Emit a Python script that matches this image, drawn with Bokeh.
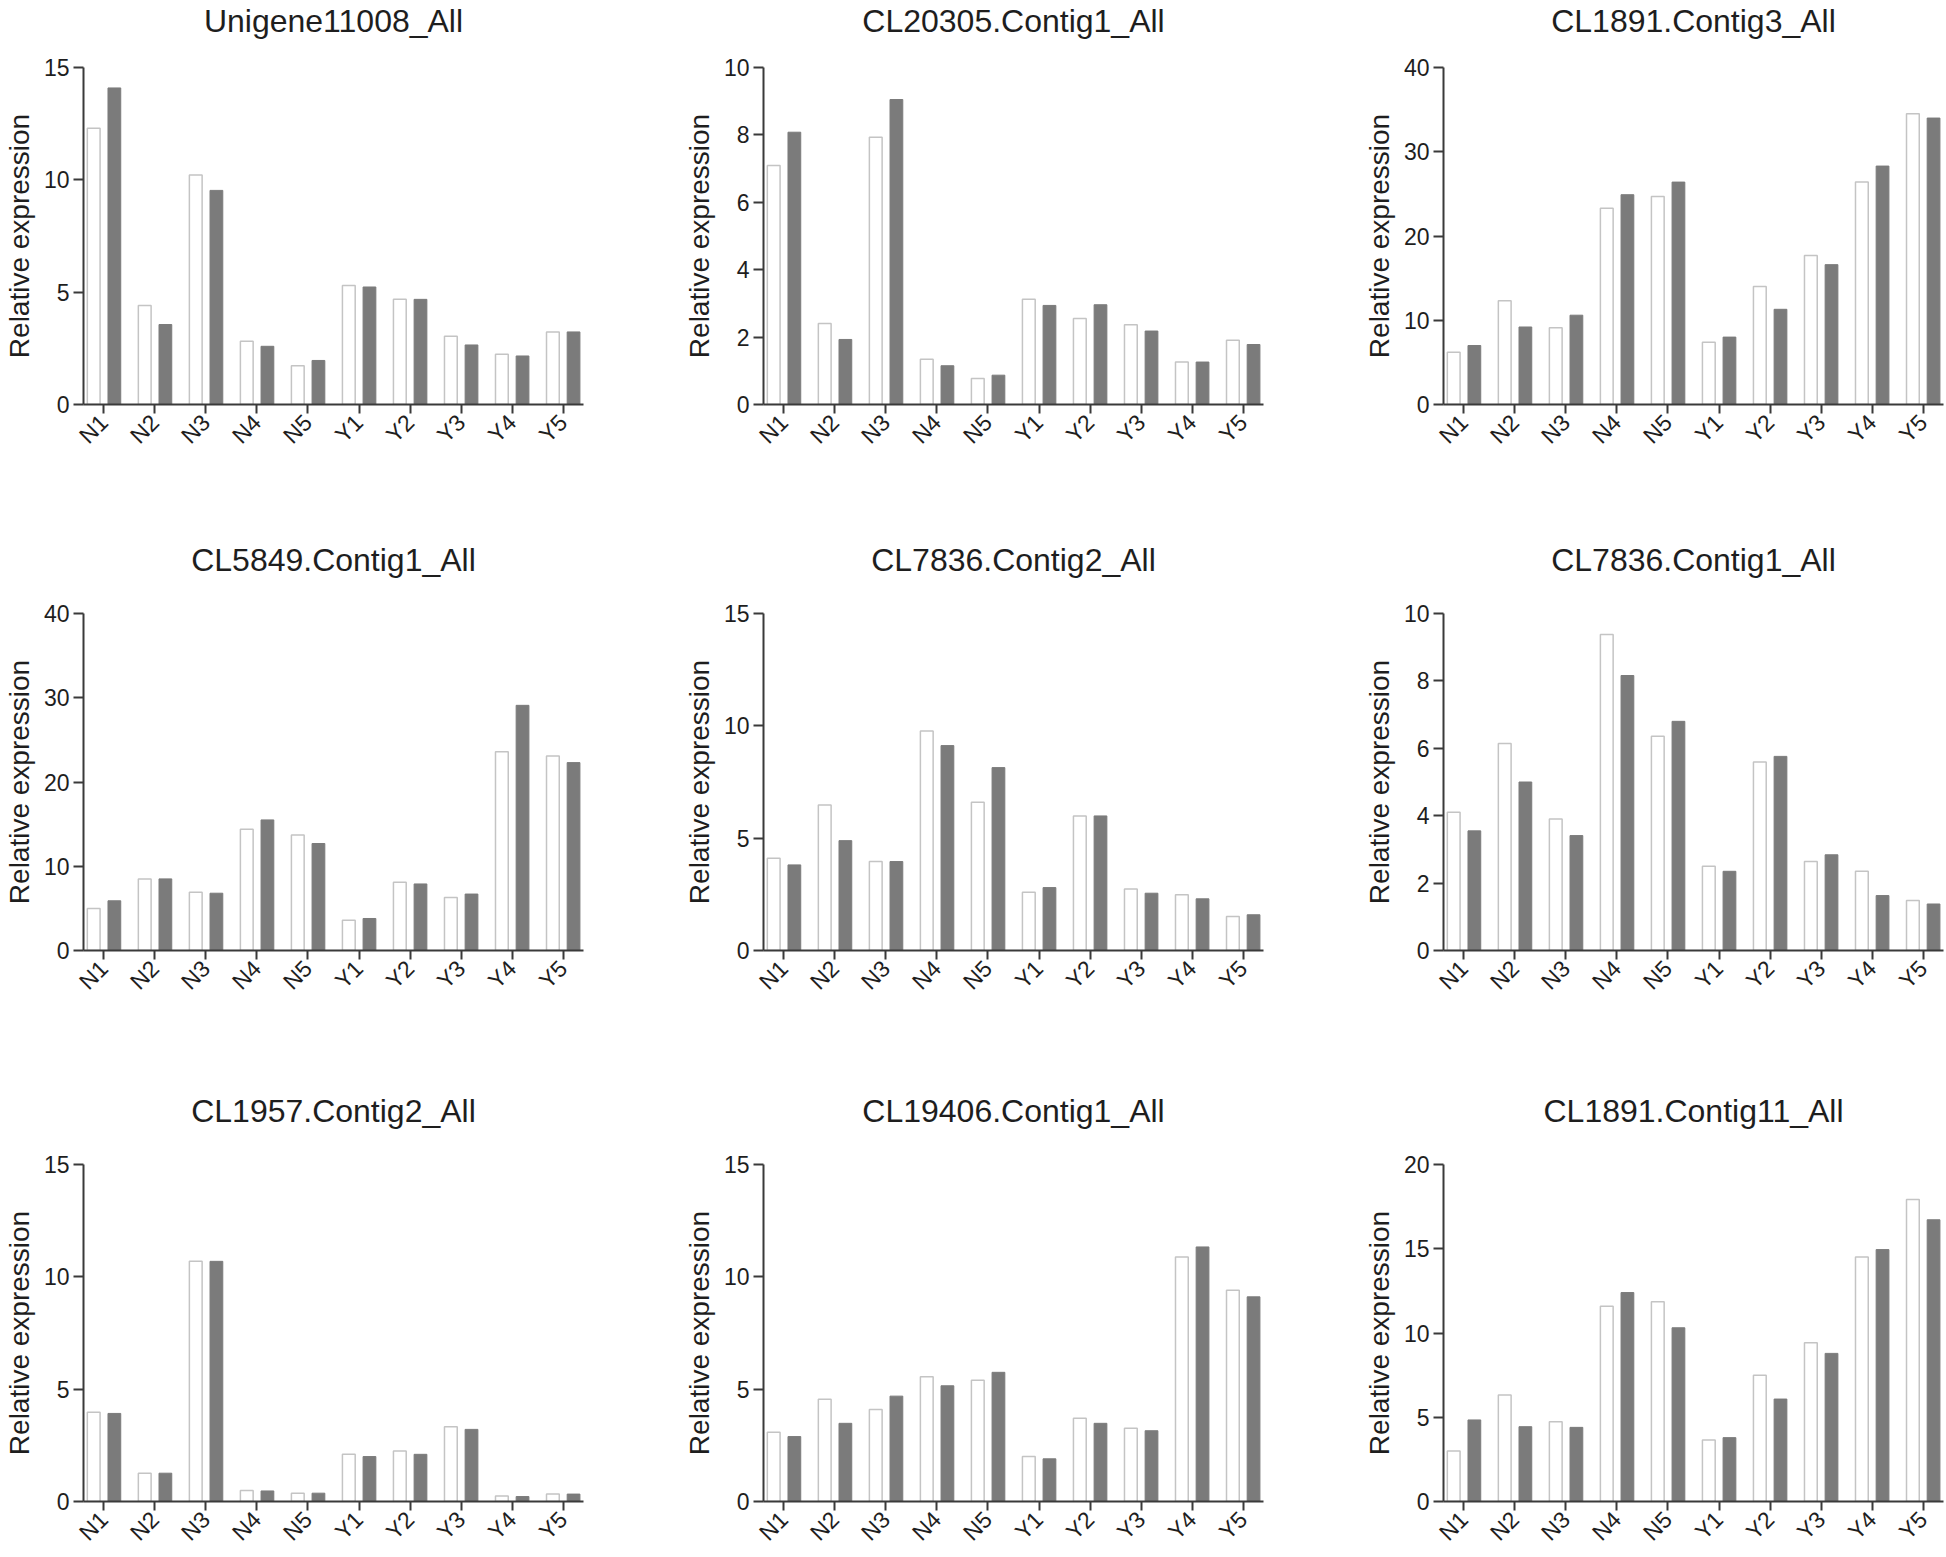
import math
from bokeh.plotting import figure
from bokeh.layouts import row, column
from bokeh.models import ColumnDataSource, FixedTicker, FactorRange, Range1d, Title
from bokeh.transform import dodge
from bokeh.embed import file_html
from bokeh.resources import INLINE

# ---------------- data ----------------
samples = ["N1", "N2", "N3", "N4", "N5", "Y1", "Y2", "Y3", "Y4", "Y5"]

titles = [
    "Unigene11008_All", "CL20305.Contig1_All", "CL1891.Contig3_All",
    "CL5849.Contig1_All", "CL7836.Contig2_All", "CL7836.Contig1_All",
    "CL1957.Contig2_All", "CL19406.Contig1_All", "CL1891.Contig11_All",
]

unigene11008_white = [12.3, 4.41, 10.22, 2.81, 1.72, 5.30, 4.68, 3.04, 2.24, 3.23]
unigene11008_grey = [14.09, 3.56, 9.53, 2.59, 1.96, 5.23, 4.68, 2.65, 2.16, 3.23]

cl20305_c1_white = [7.09, 2.40, 7.93, 1.34, 0.77, 3.12, 2.55, 2.37, 1.26, 1.91]
cl20305_c1_grey = [8.08, 1.93, 9.05, 1.15, 0.87, 2.94, 2.96, 2.18, 1.26, 1.78]

cl1891_c3_white = [6.2, 12.3, 9.1, 23.3, 24.7, 7.4, 14.0, 17.7, 26.4, 34.5]
cl1891_c3_grey = [7.0, 9.2, 10.6, 24.9, 26.4, 8.0, 11.3, 16.6, 28.3, 34.0]

cl5849_c1_white = [5.0, 8.5, 6.9, 14.4, 13.7, 3.6, 8.1, 6.3, 23.6, 23.1]
cl5849_c1_grey = [5.9, 8.5, 6.8, 15.5, 12.7, 3.8, 7.9, 6.7, 29.1, 22.3]

cl7836_c2_white = [4.11, 6.48, 3.96, 9.77, 6.60, 2.59, 5.99, 2.74, 2.48, 1.51]
cl7836_c2_grey = [3.81, 4.89, 3.96, 9.12, 8.14, 2.80, 5.99, 2.55, 2.30, 1.59]

cl7836_c1_white = [4.10, 6.14, 3.90, 9.38, 6.36, 2.50, 5.59, 2.64, 2.35, 1.48]
cl7836_c1_grey = [3.55, 5.00, 3.41, 8.16, 6.80, 2.35, 5.76, 2.84, 1.63, 1.38]

cl1957_c2_white = [3.97, 1.26, 10.69, 0.49, 0.37, 2.10, 2.25, 3.33, 0.25, 0.33]
cl1957_c2_grey = [3.92, 1.26, 10.69, 0.47, 0.37, 2.00, 2.10, 3.21, 0.22, 0.33]

cl19406_c1_white = [3.08, 4.55, 4.10, 5.55, 5.40, 2.00, 3.70, 3.26, 10.88, 9.40]
cl19406_c1_grey = [2.89, 3.48, 4.69, 5.15, 5.75, 1.90, 3.48, 3.15, 11.33, 9.11]

cl1891_c11_white = [3.00, 6.32, 4.74, 11.59, 11.85, 3.65, 7.50, 9.42, 14.51, 17.93]
cl1891_c11_grey = [4.84, 4.44, 4.40, 12.40, 10.31, 3.79, 6.08, 8.79, 14.95, 16.72]

y_max = [15, 10, 40, 40, 15, 10, 15, 15, 20]
y_ticks = [
    [0, 5, 10, 15], [0, 2, 4, 6, 8, 10], [0, 10, 20, 30, 40],
    [0, 10, 20, 30, 40], [0, 5, 10, 15], [0, 2, 4, 6, 8, 10],
    [0, 5, 10, 15], [0, 5, 10, 15], [0, 5, 10, 15, 20],
]

whites = [unigene11008_white, cl20305_c1_white, cl1891_c3_white,
          cl5849_c1_white, cl7836_c2_white, cl7836_c1_white,
          cl1957_c2_white, cl19406_c1_white, cl1891_c11_white]
greys = [unigene11008_grey, cl20305_c1_grey, cl1891_c3_grey,
         cl5849_c1_grey, cl7836_c2_grey, cl7836_c1_grey,
         cl1957_c2_grey, cl19406_c1_grey, cl1891_c11_grey]

# ---------------- layout / style ----------------
FONT = "Liberation Sans"
TEXT = "#1e1e1e"
AXIS = "#3a3a3a"
FRAME_W = 506
FRAME_H = 337
LEFT = 77
RIGHT = [97, 97, 3]
TOP = [67, 76, 76]
BOTTOM = [133, 138, 56]
TITLE_GAP = [25, 32, 32]


def make_panel(i):
    r, c = divmod(i, 3)
    src = ColumnDataSource(dict(sample=samples, white=whites[i], grey=greys[i]))
    p = figure(
        x_range=FactorRange(*samples, range_padding=-0.1, range_padding_units="absolute"),
        y_range=Range1d(0, y_max[i]),
        width=LEFT + FRAME_W + RIGHT[c],
        height=TOP[r] + FRAME_H + BOTTOM[r],
        output_backend="svg", toolbar_location=None,
        min_border_left=LEFT, min_border_right=RIGHT[c],
        min_border_top=TOP[r], min_border_bottom=BOTTOM[r],
    )
    p.vbar(x=dodge("sample", -0.2, range=p.x_range), top="white", width=0.25,
           source=src, fill_color="white", line_color="#c4c4c4", line_width=1.5)
    p.vbar(x=dodge("sample", 0.205, range=p.x_range), top="grey", width=0.25,
           source=src, fill_color="#7b7b7b", line_color="#7b7b7b", line_width=1)

    # gap between frame and panel title, then the title itself
    p.add_layout(Title(text=" ", text_font_size="2px", standoff=TITLE_GAP[r]), "above")
    p.add_layout(Title(text=titles[i], align="center", text_font=FONT,
                       text_font_size="32px", text_font_style="normal",
                       text_color=TEXT, standoff=0), "above")

    p.outline_line_color = None
    p.xgrid.grid_line_color = None
    p.ygrid.grid_line_color = None
    p.background_fill_color = "white"
    p.border_fill_color = "white"

    for ax in (p.xaxis[0], p.yaxis[0]):
        ax.axis_line_color = AXIS
        ax.axis_line_width = 2
        ax.major_tick_line_color = AXIS
        ax.major_tick_line_width = 2
        ax.major_tick_in = 0
        ax.minor_tick_line_color = None
        ax.major_label_text_font = FONT
        ax.major_label_text_color = TEXT

    p.xaxis.major_tick_out = 9
    p.xaxis.major_label_orientation = math.pi / 4
    p.xaxis.major_label_standoff = 5
    p.xaxis.major_label_text_font_size = "23px"

    p.yaxis.ticker = FixedTicker(ticks=y_ticks[i])
    p.yaxis.major_tick_out = 10
    p.yaxis.major_label_standoff = 4
    p.yaxis.major_label_text_font_size = "23px"
    p.yaxis.axis_label = "Relative expression"
    p.yaxis.axis_label_text_font = FONT
    p.yaxis.axis_label_text_font_size = "28px"
    p.yaxis.axis_label_text_font_style = "normal"
    p.yaxis.axis_label_text_color = TEXT
    p.yaxis.axis_label_standoff = 6
    return p


panels = [make_panel(i) for i in range(9)]
layout = column(
    row(panels[0], panels[1], panels[2]),
    row(panels[3], panels[4], panels[5]),
    row(panels[6], panels[7], panels[8]),
)

open("out.html", "w").write(file_html(layout, INLINE))
